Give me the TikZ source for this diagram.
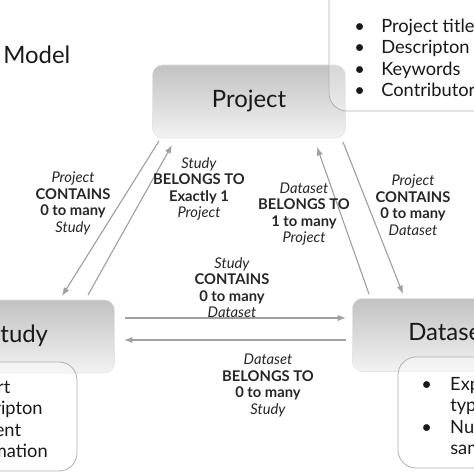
\documentclass[tikz,border=0pt]{standalone}
\usepackage{fontspec}
\setmainfont{Lato}
\usepackage{tikz}
\usetikzlibrary{arrows.meta}
\definecolor{linkgray}{RGB}{160,160,160}
\definecolor{framegray}{RGB}{178,178,178}
\tikzstyle{entity} = [rounded corners=0.25cm,top color=black!24,bottom color=black!5,draw=black!10,minimum width=4.825cm,minimum height=1.825cm,text height=0.95em,text depth=0.11em,font=\fontsize{17}{20}\selectfont,text=black!90]
\tikzstyle{attrbox} = [rounded corners=0.45cm,draw=framegray,line width=0.6pt,fill=white,fill opacity=0.35]
\tikzstyle{attrlist} = [anchor=base west,inner sep=0pt,font=\fontsize{13}{15.4}\selectfont,text=black!90]
\tikzstyle{link} = [draw=linkgray,line width=0.8pt,-{Latex[length=6pt,width=4.5pt]}]
\tikzstyle{rel} = [align=center,font=\fontsize{10.5}{11.7}\selectfont,text=black!85]

\begin{document}
\begin{tikzpicture}[x=0.025cm,y=-0.025cm]
	\useasboundingbox (0,0) rectangle (474,474);
	\clip (0,0) rectangle (474,474);

	\node[anchor=base west,inner sep=0pt,font=\fontsize{17}{20}\selectfont,text=black!90] (title) at (3,63) {Model};

	% entities
	\node[entity] (project) at (249,101.5) {Project};
	\node[entity] (study) at (18,336.5) {Study};
	\node[entity] (dataset) at (449,335) {Dataset};

	% attribute boxes
	\draw[attrbox] (329,-40) rectangle (640,111);
	\draw[attrbox] (-180,362) rectangle (77,471);
	\draw[attrbox] (398,357) rectangle (640,468);
	\node[attrlist] (projattr) at (354,32) {\begin{tabular}[t]{@{}p{19.2pt}@{}l@{}}
		\textbullet & Project title\\ \textbullet & Descripton\\ \textbullet & Keywords\\ \textbullet & Contributor
	\end{tabular}};
	\node[attrlist] (studyattr) at (-73,393) {\begin{tabular}[t]{@{}p{19.2pt}@{}l@{}}
		\textbullet & Cohort\\ \textbullet & Descripton\\ \textbullet & Consent\\ & information
	\end{tabular}};
	\node[attrlist] (dataattr) at (421,390) {\begin{tabular}[t]{@{}p{20.6pt}@{}l@{}}
		\textbullet & Experiment\\ & type\\ \textbullet & Number of\\ & samples
	\end{tabular}};

	% connector ends
	\coordinate (ps-from) at (159,141); \coordinate (ps-to) at (62,296);
	\coordinate (sp-from) at (88,295); \coordinate (sp-to) at (172,145);
	\coordinate (dp-from) at (369,294); \coordinate (dp-to) at (317,147);
	\coordinate (pd-from) at (343,142); \coordinate (pd-to) at (403,294);
	\coordinate (sd-from) at (125,318); \coordinate (sd-to) at (346,318);
	\coordinate (ds-from) at (346,340); \coordinate (ds-to) at (124,340);

	\draw[link] (ps-from) -- (ps-to);
	\draw[link] (sp-from) -- (sp-to);
	\draw[link] (dp-from) -- (dp-to);
	\draw[link] (pd-from) -- (pd-to);
	\draw[link] (sd-from) -- (sd-to);
	\draw[link] (ds-from) -- (ds-to);

	% relation labels
	\node[rel] (ps-label) at (73,203.5) {\textit{Project}\\\textbf{CONTAINS}\\\textbf{0 to many}\\\textit{Study}};
	\node[rel] (sp-label) at (199,189) {\textit{Study}\\\textbf{BELONGS TO}\\\textbf{Exactly 1}\\\textit{Project}};
	\node[rel] (dp-label) at (304,214) {\textit{Dataset}\\\textbf{BELONGS TO}\\\textbf{1 to many}\\\textit{Project}};
	\node[rel] (pd-label) at (413,205) {\textit{Project}\\\textbf{CONTAINS}\\\textbf{0 to many}\\\textit{Dataset}};
	\node[rel] (sd-label) at (232,287.5) {\textit{Study}\\\textbf{CONTAINS}\\\textbf{0 to many}\\\textit{Dataset}};
	\node[rel] (ds-label) at (268,385.5) {\textit{Dataset}\\\textbf{BELONGS TO}\\\textbf{0 to many}\\\textit{Study}};
\end{tikzpicture}
\end{document}
